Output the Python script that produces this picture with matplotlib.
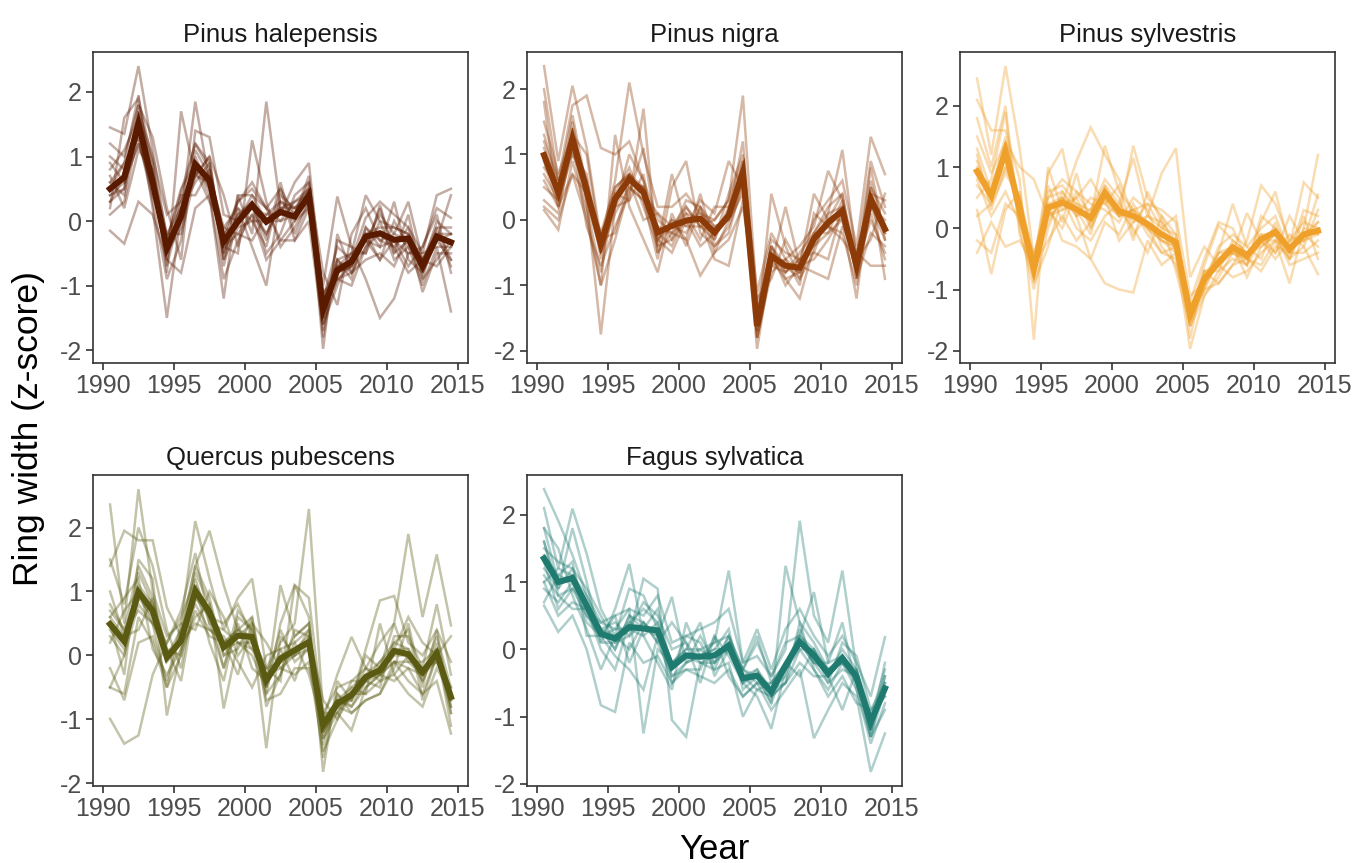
import numpy as np
import matplotlib
matplotlib.use("Agg")
import matplotlib.pyplot as plt

plt.rcParams['font.family'] = ['Liberation Sans', 'DejaVu Sans']
plt.rcParams['axes.unicode_minus'] = False

# ring-width index years (mid-year positions)
years = np.arange(1990.5, 2015.0, 1.0)

species = ['Pinus halepensis', 'Pinus nigra', 'Pinus sylvestris',
           'Quercus pubescens', 'Fagus sylvatica']
colors = ['#5a1a00', '#8c3a08', '#efa02a', '#5a5a12', '#1f7a70']

# species mean chronologies
halepensis_mean = [0.50, 0.68, 1.51, 0.60, -0.42, 0.07, 0.88, 0.63, -0.32, -0.01, 0.25, -0.01, 0.14,
                   0.07, 0.40, -1.37, -0.76, -0.63, -0.24, -0.19, -0.29, -0.27, -0.70, -0.24, -0.33]
nigra_mean = [0.99, 0.42, 1.24, 0.45, -0.37, 0.32, 0.63, 0.42, -0.19, -0.09, -0.01, 0.02, -0.19,
              0.07, 0.73, -1.62, -0.55, -0.70, -0.73, -0.29, -0.04, 0.14, -0.70, 0.32, -0.14]
sylvestris_mean = [0.93, 0.53, 1.26, 0.30, -0.67, 0.34, 0.42, 0.31, 0.17, 0.58, 0.28, 0.20, 0.07,
                   -0.10, -0.23, -1.40, -0.83, -0.56, -0.31, -0.45, -0.18, -0.06, -0.34, -0.10, -0.04]
pubescens_mean = [0.49, 0.22, 0.99, 0.70, -0.03, 0.23, 1.01, 0.68, 0.13, 0.31, 0.29, -0.39, -0.05,
                  0.08, 0.21, -1.09, -0.75, -0.62, -0.34, -0.23, 0.07, 0.02, -0.26, 0.03, -0.65]
sylvatica_mean = [1.35, 1.00, 1.06, 0.65, 0.23, 0.16, 0.33, 0.31, 0.28, -0.26, -0.09, -0.11, -0.09,
                  0.05, -0.43, -0.39, -0.63, -0.24, 0.11, -0.09, -0.36, -0.13, -0.41, -1.08, -0.58]

# individual tree series
halepensis_trees = [
    [1.45, 1.35, 2.40, 1.10, -0.30, 0.45, 1.20, 0.80, -0.20, 0.30, 0.60, 0.20, 0.50, 0.10, 0.70, -1.20, -0.40, -0.60, 0.05, 0.30, 0.10, -0.10, -0.50, 0.40, 0.50],
    [0.20, 1.60, 1.90, 0.90, -0.80, 1.70, 0.70, 1.00, -0.60, 0.40, -0.20, 1.85, 0.20, 0.30, 0.50, -1.98, -0.20, -0.80, -0.40, 0.20, -0.50, -0.30, -0.90, -0.10, -0.60],
    [0.80, 1.10, 1.60, 0.20, -1.50, 0.10, 1.85, 0.60, -0.50, 0.10, 0.30, -0.30, 0.60, -0.20, 0.30, -1.50, -0.60, -0.90, -0.10, -0.40, 0.30, -0.60, -0.80, -0.30, -0.20],
    [-0.15, -0.35, 0.30, 0.10, -0.60, -0.80, 0.20, 0.40, -0.90, -0.30, 0.10, -0.60, -0.30, 0.00, 0.20, -1.00, 0.38, -0.40, -0.90, -1.50, -1.20, -0.50, -0.40, 0.20, 0.05],
    [1.20, 1.00, 1.80, 1.30, 0.20, -0.60, 1.40, 1.30, 0.10, 0.00, 0.20, -0.20, 0.30, 0.10, 0.60, -0.80, -1.30, -0.20, 0.20, -0.30, -0.20, 0.30, -0.60, -0.70, -0.40],
    [0.40, 0.60, 1.20, 0.50, -0.30, 0.50, 0.90, 0.40, -1.20, 0.40, 0.40, 0.00, 0.00, 0.30, 0.40, -1.60, -1.00, -0.50, -0.50, 0.00, -0.60, -0.40, -1.00, -0.40, -1.40],
    [0.10, 0.30, 1.40, 0.70, -0.70, 0.20, 0.60, 0.90, -0.40, -0.50, 1.25, 0.30, -0.40, -0.10, 0.30, -1.40, -0.90, -1.00, -0.40, -0.20, -0.40, -0.80, -0.60, -0.20, -0.70],
    [0.60, 0.40, 1.70, 1.00, 0.10, 0.30, 0.80, 0.30, -0.10, -0.20, -0.30, 0.10, 0.10, 0.60, 0.90, -1.20, -0.70, -0.50, 0.40, 0.00, -0.10, -0.20, -0.60, -0.10, -0.10],
    [1.00, 0.80, 1.30, 0.30, -0.90, -0.30, 1.10, 0.70, -0.70, 0.20, -0.40, -1.00, 0.40, 0.20, 0.40, -1.80, -0.60, -0.80, -0.60, -0.50, -0.70, -0.20, -1.10, -0.50, -0.50],
    [0.30, 0.70, 1.50, 0.60, -0.40, 0.00, 1.00, 0.50, -0.30, 0.30, 0.50, 0.20, -0.30, -0.30, 0.20, -1.30, -0.80, -0.70, -0.30, -0.60, 0.00, -0.40, -0.70, -0.30, 0.40],
    [0.50, 0.90, 1.95, 0.50, -0.50, 0.40, 0.40, 0.80, -0.60, -0.10, 0.00, -0.40, 0.50, -0.30, 0.00, -1.70, -0.30, -0.40, -0.50, 0.25, -0.50, 0.10, -0.90, -0.60, -0.30],
    [0.70, 0.20, 1.10, 0.80, -0.20, -0.20, 0.70, 1.00, 0.40, -0.40, 0.30, -0.50, -0.20, 0.40, 0.60, -1.10, -0.90, -0.80, -0.20, -0.60, -0.30, -0.70, -0.40, 0.10, -0.80],
    [0.30, 0.50, 1.60, 0.90, -0.60, 0.30, 1.20, 0.90, -0.50, 0.10, 0.20, 0.10, 0.30, 0.20, 0.50, -1.60, -0.90, -0.70, -0.10, -0.30, -0.40, -0.10, -0.80, -0.30, -0.60],
    [0.60, 0.90, 1.30, 0.40, -0.20, 0.20, 0.70, 0.60, -0.20, 0.00, 0.40, 0.20, 0.00, 0.10, 0.30, -1.20, -0.60, -0.50, -0.30, 0.10, -0.20, -0.30, -0.70, 0.00, -0.20],
    [0.40, 0.50, 1.80, 0.70, -0.50, -0.10, 0.90, 0.50, -0.40, -0.20, 0.10, -0.20, 0.20, 0.00, 0.50, -1.50, -0.70, -0.60, -0.30, -0.40, -0.30, -0.50, -0.50, -0.40, -0.40],
    [0.90, 0.60, 1.20, 0.60, -0.30, 0.10, 0.80, 0.70, -0.10, 0.20, 0.00, 0.00, 0.20, 0.20, 0.30, -1.40, -0.80, -0.70, -0.20, -0.10, -0.10, -0.20, -0.60, -0.20, -0.20],
]
nigra_trees = [
    [2.35, 0.90, 2.05, 1.10, -0.30, 0.60, 2.10, 1.00, 0.20, 0.20, 0.40, 0.10, 0.00, 0.30, 1.90, -1.30, -0.30, -0.50, -0.60, 0.00, 0.30, 0.60, -0.40, 1.27, 0.70],
    [2.00, 0.60, 1.75, 1.90, 1.10, 1.00, 1.20, 0.60, 0.00, -0.20, 0.30, 0.20, -0.30, 0.40, 1.00, -1.50, -0.40, -0.80, -0.50, -0.20, 0.10, 1.07, -0.60, 0.90, 0.20],
    [1.80, 0.20, 1.40, 0.30, -1.75, 0.20, 0.30, 1.70, -0.50, 0.00, -0.30, -0.85, -0.50, 0.00, 0.40, -1.97, -0.60, -0.90, -1.20, -0.40, -0.20, 0.00, -1.20, 0.50, -0.90],
    [0.15, -0.15, 0.90, 0.10, -1.00, -0.30, 0.50, 0.30, -0.60, 0.50, 0.90, -0.20, -0.40, -0.20, 0.60, -1.70, 0.40, -0.40, -0.90, -0.50, -0.60, 0.20, -0.80, 0.10, -0.60],
    [0.50, 0.30, 1.00, 0.70, -0.60, 0.40, 0.80, 0.20, -0.40, 0.70, -0.10, 0.30, 0.10, 0.90, 0.50, -1.60, -0.70, 0.20, -0.70, 0.40, 0.00, 0.40, -0.90, -0.20, -0.40],
    [1.50, 0.70, 1.30, 1.00, -0.40, 0.30, 0.60, 0.50, -0.20, -0.40, 0.10, -0.30, 0.20, 0.20, 0.80, -1.80, -0.80, -0.60, -0.40, -0.10, 0.75, 0.30, -0.50, 0.40, 0.30],
    [0.30, 0.10, 1.20, -0.10, -0.70, -0.10, 0.40, 1.10, -0.30, -0.50, 0.00, 0.00, -0.60, -0.70, 0.30, -1.40, -0.50, -1.00, -0.70, -0.60, -0.30, 0.10, -0.70, 0.60, -0.20],
    [0.80, 0.50, 1.60, 0.50, -0.20, 0.50, 0.70, 0.40, 0.10, -0.10, -0.20, 0.20, -0.10, 0.00, 0.60, -1.60, -0.60, -0.70, -0.90, -0.30, -0.10, -0.20, -1.00, 0.20, 0.00],
    [0.20, 0.00, 0.70, 0.00, -1.00, 1.30, 0.20, -0.30, -0.80, 0.10, -0.40, 0.20, -0.50, -0.30, 0.20, -1.20, -0.90, -0.30, -0.70, -0.80, -0.90, -0.10, -0.50, -0.70, -0.70],
    [1.20, 0.60, 1.10, 0.60, -0.50, 0.20, 1.00, 0.60, -0.40, -0.30, 0.00, -0.40, -0.20, 0.10, 1.20, -1.50, -0.40, -0.90, -0.80, -0.20, 0.20, 0.40, -0.80, 0.80, -0.30],
    [0.60, 0.20, 0.70, 0.40, -0.30, -0.20, 0.60, 0.00, 0.10, -0.30, 0.20, -0.10, 0.00, 0.30, 0.90, -1.10, -0.20, -0.60, -1.00, 0.10, -0.10, -0.30, -0.60, -0.30, 0.40],
    [1.00, 0.40, 1.20, 0.20, -0.80, 0.40, 0.30, 0.70, -0.50, -0.20, -0.30, 0.40, -0.40, -0.10, 0.50, -1.80, -0.70, -0.80, -0.60, -0.50, 0.10, 0.20, -0.70, 0.00, -0.50],
    [1.10, 0.50, 1.30, 0.60, -0.30, 0.30, 0.70, 0.50, -0.20, -0.10, 0.10, 0.00, -0.20, 0.10, 0.80, -1.70, -0.60, -0.70, -0.80, -0.30, -0.10, 0.20, -0.80, 0.40, -0.10],
    [0.70, 0.30, 1.50, 0.30, -0.50, 0.10, 0.50, 0.30, -0.30, 0.00, -0.10, -0.10, -0.30, 0.20, 0.60, -1.50, -0.50, -0.80, -0.60, -0.40, 0.00, 0.10, -0.60, 0.30, -0.20],
    [1.30, 0.60, 1.00, 0.50, -0.40, 0.50, 0.70, 0.40, -0.10, -0.20, 0.00, 0.10, -0.10, 0.00, 0.90, -1.80, -0.70, -0.60, -0.80, -0.20, -0.20, 0.30, -0.90, 0.50, 0.10],
    [0.90, 0.20, 1.10, 0.40, -0.20, 0.20, 0.60, 0.50, -0.30, -0.10, 0.20, -0.10, -0.20, 0.10, 0.70, -1.60, -0.40, -0.70, -0.70, -0.30, 0.00, 0.00, -0.70, 0.20, -0.30],
]
sylvestris_trees = [
    [2.45, 1.20, 2.65, 1.30, -0.50, 0.50, 0.80, 0.60, 0.20, 1.35, 0.60, 0.30, 0.40, 0.30, 0.10, -1.60, -0.90, -0.40, 0.40, -0.30, 0.00, 0.20, -0.40, 0.30, 0.20],
    [2.10, 1.60, 1.60, 0.80, -1.82, 1.00, 0.30, 0.50, 0.80, 0.40, 0.20, 1.35, 0.50, 0.20, -0.40, -1.97, -1.10, -0.70, -0.50, -0.60, 0.10, 0.60, -0.30, 0.75, 0.50],
    [-0.40, 0.10, -0.30, -0.20, -0.60, 0.90, 1.30, 0.20, -0.50, 0.10, -0.10, 0.40, 0.00, -0.20, -0.30, -1.20, -0.50, 0.10, 0.00, -0.50, -0.60, -0.20, -0.90, 0.00, 1.20],
    [1.50, 0.90, 1.40, 1.00, 0.80, 0.20, 0.40, 1.10, 1.65, 1.20, 0.80, 0.20, 0.00, -0.40, -0.50, -1.50, -1.00, -0.90, -0.60, -0.20, 0.70, 0.40, -0.20, -0.10, -0.30],
    [0.30, -0.75, 0.30, 0.60, -0.90, -0.30, 0.50, 0.00, -0.20, 0.20, 0.40, 1.15, 0.20, 0.90, 1.31, -0.80, -0.30, -0.60, -0.80, -0.70, -0.40, -0.20, -0.50, -0.30, -0.75],
    [1.20, 0.30, 1.00, 0.50, -0.70, 0.40, -0.20, -0.30, -0.50, -0.90, -1.00, -1.05, -0.20, -0.60, -0.40, -1.30, -0.80, -0.40, -0.30, -0.80, -0.30, -0.10, -0.60, -0.50, -0.40],
    [0.50, 0.80, 1.90, -0.10, -0.80, 0.60, 0.70, 0.40, 0.30, 0.80, 0.50, -0.20, 0.60, 0.10, -0.20, -1.60, -1.10, -0.80, -0.40, 0.25, -0.20, -0.50, -0.20, 0.10, 0.00],
    [0.80, 0.20, 0.60, 0.10, -0.40, 0.30, 0.00, 0.60, 0.40, 0.30, 0.10, 0.50, 0.30, -0.30, -0.60, -1.40, -0.60, 0.05, -0.20, -0.40, -0.10, -0.40, 0.20, -0.20, 0.55],
    [-0.20, -0.40, 0.40, 0.20, -0.60, -0.20, 0.20, -0.20, 0.10, 0.60, 0.30, 0.00, -0.40, 0.20, -0.10, -1.80, -0.70, -0.90, -0.60, -0.50, -0.70, -0.30, -0.40, -0.40, -0.20],
    [1.80, 1.00, 2.00, 0.00, -1.00, 0.00, 0.60, 0.30, -0.10, 0.70, 0.20, 0.30, -0.10, -0.40, -0.30, -1.40, -1.00, -0.50, -0.30, -0.60, 0.20, 0.00, -0.30, -0.10, 0.10],
    [0.20, 0.40, 0.90, 0.50, -0.50, 0.70, 0.10, 0.90, 0.00, 0.50, -0.20, 0.10, 0.40, 0.00, 0.20, -1.10, -0.90, -0.30, -0.10, -0.30, -0.50, 0.10, -0.50, 0.20, -0.50],
    [1.30, 0.60, 1.50, 0.40, -0.70, 0.10, 0.50, 0.20, 0.50, 0.40, 0.70, -0.10, 0.20, 0.10, -0.70, -1.60, -0.70, -0.60, -0.40, -0.60, -0.20, -0.40, -0.10, -0.30, 0.30],
    [1.00, 0.60, 1.20, 0.40, -0.70, 0.40, 0.50, 0.30, 0.20, 0.60, 0.30, 0.20, 0.10, -0.10, -0.20, -1.50, -0.90, -0.60, -0.30, -0.40, -0.20, 0.00, -0.40, -0.10, 0.00],
    [0.70, 0.40, 1.40, 0.20, -0.80, 0.20, 0.30, 0.40, 0.10, 0.50, 0.20, 0.30, 0.00, -0.20, -0.30, -1.30, -0.80, -0.50, -0.40, -0.50, -0.10, -0.10, -0.30, -0.20, 0.10],
    [1.10, 0.50, 1.00, 0.50, -0.50, 0.50, 0.60, 0.20, 0.30, 0.70, 0.40, 0.10, 0.20, 0.00, -0.10, -1.40, -0.70, -0.70, -0.20, -0.40, -0.30, -0.10, -0.50, 0.00, -0.10],
    [0.90, 0.70, 1.30, 0.10, -0.60, 0.30, 0.40, 0.50, 0.00, 0.50, 0.20, 0.30, 0.10, -0.20, -0.40, -1.50, -1.00, -0.40, -0.40, -0.50, -0.20, -0.20, -0.30, -0.20, -0.10],
]
pubescens_trees = [
    [2.36, 0.50, 2.60, 1.00, 0.30, 0.50, 2.10, 1.20, 0.40, 0.90, 1.20, -0.20, 0.20, 0.50, 2.29, -0.90, -0.50, -0.40, -0.20, 0.20, 0.50, 1.90, 0.60, 1.58, 0.47],
    [1.40, 1.95, 1.80, 1.80, 0.75, 0.30, 1.40, 1.95, 1.10, 0.40, 0.60, -0.60, 0.50, 1.10, 0.60, -1.82, -0.40, -0.70, 0.10, 0.86, 0.93, 0.20, 0.00, 0.40, -0.10],
    [-0.99, -1.38, -1.25, -0.30, 0.20, 0.60, 1.20, 0.50, -0.20, 0.70, 0.40, -1.45, 0.30, 0.00, 0.40, -1.30, -0.90, -1.17, -0.50, -0.30, -0.10, -0.40, -0.60, -0.40, -1.22],
    [0.50, -0.30, 1.50, 1.20, -0.94, 0.10, 0.60, 0.80, -0.83, 0.20, 0.00, -0.50, 1.10, 0.30, 0.50, -1.20, -0.80, -0.90, -0.70, -0.60, -0.20, 0.50, -0.50, 0.40, -0.90],
    [1.50, 0.80, 2.00, 1.40, 0.40, -0.20, 1.00, 0.60, 0.50, 0.80, 0.30, -0.20, -0.40, 1.10, 0.90, -1.00, -0.30, 0.29, -0.20, -0.40, 0.20, 0.40, -0.70, 0.00, -0.80],
    [-0.50, -0.60, 0.60, 0.20, -0.50, 0.00, 0.70, 0.30, 0.20, -0.30, 0.50, 0.20, -0.20, -0.30, -0.10, -1.50, -1.00, -0.50, -0.60, 0.50, -0.30, -0.60, -0.80, -0.20, -0.60],
    [0.20, 0.70, 1.00, 0.50, -0.50, 0.40, 1.40, 0.90, 0.00, 0.10, 0.60, -0.80, -0.30, 0.20, -0.30, -1.10, -0.70, -0.80, -0.40, -0.50, 0.30, 0.30, -0.20, 0.80, -0.30],
    [1.00, 0.30, 0.40, 0.90, 0.00, 0.20, 0.50, 0.40, 0.30, -0.10, -0.50, 0.00, 0.10, -0.40, 0.30, -0.70, -1.00, -0.60, -0.60, -0.40, -0.30, 0.00, -0.40, 0.10, -1.10],
    [-0.50, 0.00, 1.30, 0.80, 0.10, -0.40, 0.90, 0.70, -0.20, 0.50, -0.20, -0.40, 0.40, -0.10, 0.10, -1.60, -0.60, -0.80, -0.50, -0.30, -0.40, -0.20, -0.30, 0.30, -0.50],
    [0.80, 0.40, 0.70, 0.50, 0.20, 0.70, 1.60, 0.50, 0.40, 0.20, 0.10, -0.20, -0.10, 0.30, 0.50, -1.20, -0.80, -0.70, 0.00, -0.20, 0.50, -0.10, -0.10, 0.10, -0.70],
    [-0.20, -0.70, 0.20, 0.30, -0.40, 0.50, 0.40, 1.00, 0.60, 0.00, 0.30, -0.70, -0.60, -0.20, -0.20, -0.90, -0.90, -0.40, -0.40, -0.10, 0.10, 0.60, 0.20, 0.00, -0.90],
    [0.60, 0.90, 1.20, 0.10, -0.30, 0.10, 1.10, 0.20, -0.40, 0.60, 0.40, -0.60, -0.30, 0.40, 0.30, -1.40, -0.60, -0.90, -0.70, -0.60, -0.10, -0.20, -0.60, 0.00, 0.30],
    [0.60, 0.30, 1.10, 0.80, 0.00, 0.30, 1.10, 0.70, 0.20, 0.40, 0.30, -0.40, 0.00, 0.10, 0.30, -1.20, -0.80, -0.60, -0.30, -0.20, 0.10, 0.10, -0.30, 0.10, -0.70],
    [0.40, 0.10, 0.90, 0.60, -0.10, 0.20, 0.90, 0.60, 0.10, 0.20, 0.20, -0.30, -0.10, 0.00, 0.20, -1.00, -0.70, -0.70, -0.40, -0.30, 0.00, 0.00, -0.20, -0.10, -0.60],
    [0.70, 0.40, 1.40, 0.90, 0.10, 0.00, 1.30, 0.80, 0.00, 0.30, 0.50, -0.50, 0.10, 0.20, 0.40, -1.30, -0.70, -0.50, -0.30, -0.10, 0.20, 0.10, -0.40, 0.20, -0.80],
    [0.30, 0.00, 0.80, 0.50, 0.00, 0.40, 0.80, 0.40, 0.20, 0.40, 0.10, -0.30, -0.20, 0.00, 0.10, -1.10, -0.90, -0.60, -0.20, -0.30, -0.10, -0.10, -0.30, -0.10, -0.50],
]
sylvatica_trees = [
    [2.38, 1.91, 1.40, 0.80, 0.40, 0.30, 0.60, 0.50, 0.80, 0.10, 0.20, 0.30, 0.40, 0.60, -0.20, 0.30, -0.30, 0.30, 0.60, 0.20, -0.10, 0.20, -0.20, -0.70, 0.18],
    [2.10, 1.20, 2.09, 1.42, 0.60, 0.20, 0.90, 0.80, 0.30, -0.30, -0.10, 0.00, 0.10, 1.17, -0.20, -0.10, -0.40, 0.00, 1.91, 0.50, 0.10, 1.17, -0.30, -1.20, -0.40],
    [0.65, 0.26, 0.50, 0.00, -0.83, -0.93, 0.10, -0.20, -0.10, -0.50, -0.30, -0.40, -0.50, -0.30, -0.70, -0.50, -0.90, -0.60, -0.30, -1.32, -0.90, -0.50, -0.70, -1.82, -1.25],
    [1.60, 0.90, 1.80, 1.00, 0.10, 0.60, 1.27, 0.20, -0.20, -0.60, 0.40, -0.10, 0.00, 0.30, -0.60, -0.40, -0.80, 1.24, 0.40, -0.30, -0.60, -0.20, -0.60, -1.40, -0.80],
    [0.90, 0.70, 1.00, 0.40, 0.20, -0.10, -0.30, -0.60, 0.20, 0.78, -0.20, 0.20, -0.20, 0.20, -0.30, 0.20, -0.50, -0.20, 0.20, 0.85, -0.20, -0.10, -0.40, -1.00, -0.30],
    [1.30, 0.60, 0.90, 0.70, 0.30, 0.40, 0.20, 1.05, 0.90, -1.05, -1.30, -0.20, -0.30, -0.20, -1.00, -0.60, -0.70, -0.50, -0.20, -0.40, -0.40, -0.90, -0.30, -1.10, -0.60],
    [1.80, 1.50, 0.80, 0.30, -0.30, 0.20, 0.00, 0.40, 0.10, 0.40, 0.10, -0.50, 0.20, -0.10, -0.50, -0.70, -1.18, -0.30, 0.10, -0.20, -0.50, -0.30, -0.40, -1.00, -0.60],
    [0.70, 1.10, 1.30, 0.20, 0.20, 0.50, 0.60, -1.25, 0.00, -0.20, 0.00, 0.40, -0.40, 0.00, -0.40, -0.30, -0.60, -0.40, 0.30, -0.20, -0.20, 0.40, -0.60, -1.30, -0.90],
    [1.10, 0.80, 0.60, 0.60, 0.00, -0.30, 0.40, 0.60, 0.40, -0.40, -0.30, -0.30, 0.20, -0.40, -0.70, -0.50, -0.60, -0.50, 0.00, -0.30, -0.70, -0.40, -0.80, -0.90, -0.50],
    [1.50, 1.30, 1.20, 0.90, 0.50, 0.10, 0.30, 0.70, 0.50, 0.00, 0.10, -0.20, -0.20, 0.10, -0.30, 0.10, -0.40, 0.10, 0.20, 0.00, -0.30, -0.20, -0.30, -1.30, -0.40],
    [1.00, 0.50, 0.70, 0.60, 0.40, 0.50, -0.20, 0.30, 0.60, -0.30, 0.20, 0.10, -0.30, 0.20, -0.40, -0.60, -0.50, -0.20, -0.40, 0.00, -0.50, 0.10, -0.10, -0.90, -0.70],
    [1.80, 1.00, 1.10, 0.50, 0.30, 0.00, 0.50, 0.30, 0.20, -0.50, -0.20, -0.10, 0.10, 0.20, -0.30, -0.40, -0.70, -0.50, 0.40, 0.10, -0.30, -0.10, -0.50, -1.20, -0.20],
    [1.40, 1.10, 1.00, 0.70, 0.30, 0.20, 0.40, 0.30, 0.30, -0.20, -0.10, -0.10, 0.00, 0.00, -0.40, -0.40, -0.60, -0.30, 0.10, -0.10, -0.40, -0.10, -0.40, -1.10, -0.60],
    [1.20, 0.90, 1.20, 0.60, 0.10, 0.10, 0.20, 0.40, 0.20, -0.30, -0.10, -0.20, -0.10, 0.10, -0.50, -0.30, -0.70, -0.20, 0.20, -0.10, -0.30, -0.20, -0.50, -1.20, -0.50],
    [1.60, 0.80, 0.90, 0.50, 0.20, 0.30, 0.30, 0.20, 0.40, -0.20, 0.00, 0.00, -0.20, 0.00, -0.30, -0.50, -0.50, -0.30, 0.00, 0.00, -0.40, 0.00, -0.30, -1.00, -0.70],
    [1.00, 1.20, 1.10, 0.80, 0.30, 0.00, 0.50, 0.40, 0.10, -0.40, -0.20, -0.10, -0.10, 0.10, -0.50, -0.40, -0.80, -0.20, 0.10, -0.20, -0.30, -0.20, -0.40, -1.30, -0.60],
]

means = [halepensis_mean, nigra_mean, sylvestris_mean, pubescens_mean, sylvatica_mean]
trees = [halepensis_trees, nigra_trees, sylvestris_trees, pubescens_trees, sylvatica_trees]

W, H = 1370, 863
fig = plt.figure(figsize=(W / 100, H / 100), dpi=100)

# panel boxes in pixels: left, top
lefts = [93, 527, 960, 93, 527]
tops = [52, 52, 52, 475, 475]
pw, ph = 375, 311

for i, name in enumerate(species):
    ax = fig.add_axes([lefts[i] / W, 1 - (tops[i] + ph) / H, pw / W, ph / H])
    for tree in trees[i]:
        ax.plot(years, tree, color=colors[i], alpha=0.36, lw=1.8, solid_joinstyle='miter')
    ax.plot(years, means[i], color=colors[i], lw=4.4, solid_joinstyle='miter')
    ax.margins(x=0.05, y=0.05)
    ax.set_xticks([1990, 1995, 2000, 2005, 2010, 2015])
    ax.set_yticks([-2, -1, 0, 1, 2])
    ax.tick_params(direction='out', length=5, width=1.2, color='#333333',
                   labelsize=18, labelcolor='#4d4d4d', pad=3)
    for s in ax.spines.values():
        s.set_color('#333333')
        s.set_linewidth(1.2)
    ax.set_title(name, fontsize=18.5, color='#1a1a1a', pad=7)

fig.text(714 / W, 1 - 849 / H, 'Year', ha='center', va='center', fontsize=25)
fig.text(29 / W, 1 - 428 / H, 'Ring width (z-score)', ha='center', va='center',
         rotation=90, fontsize=25.5)

fig.savefig('out.png', dpi=100)
